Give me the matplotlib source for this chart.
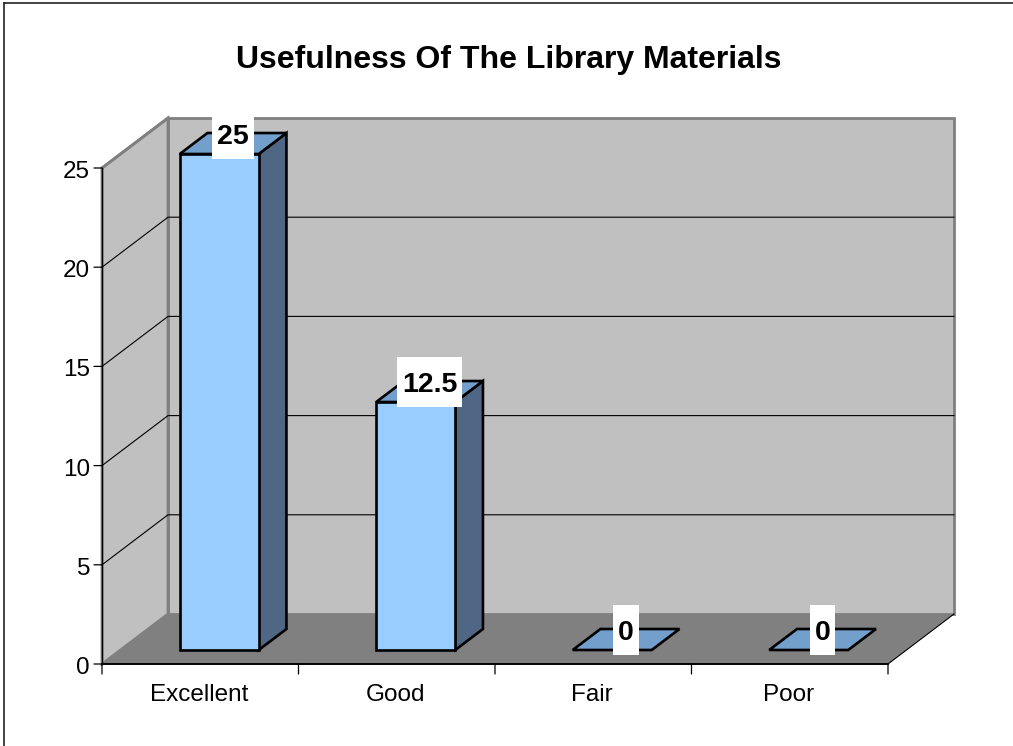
import matplotlib
matplotlib.use('Agg')
import matplotlib.pyplot as plt
from matplotlib.transforms import Affine2D

categories = ['Excellent', 'Good', 'Fair', 'Poor']
values = [25, 12.5, 0, 0]
value_labels = ['25', '12.5', '0', '0']
y_ticks = [0, 5, 10, 15, 20, 25]

plt.rcParams['font.family'] = ['Liberation Sans', 'DejaVu Sans']

W, H = 1013, 746
fig = plt.figure(figsize=(W / 100, H / 100), dpi=100)
# the front plane of the 3d box is the axes
ax = fig.add_axes([102 / W, 1 - 664 / H, 786 / W, 496 / H])
ax.set_xlim(0, len(categories))
ax.set_ylim(0, 25)
ax.axis('off')

# how far the back wall is pushed from the front plane, in data units
DX = 66 / 786 * 4
DY = 50 / 496 * 25


def proj(x, y, d):
    return (x + DX * d, y + DY * d)


def face(pts, fc, ec, lw, z):
    ax.fill([p[0] for p in pts], [p[1] for p in pts], facecolor=fc, edgecolor=ec,
            linewidth=lw, zorder=z, clip_on=False, joinstyle='miter')


n = len(categories)
grey = '#c0c0c0'
edge = '#808080'

# back wall, side wall, floor
face([proj(0, 0, 1), proj(n, 0, 1), proj(n, 25, 1), proj(0, 25, 1)], grey, edge, 2.0, 1)
face([proj(0, 0, 0), proj(0, 0, 1), proj(0, 25, 1), proj(0, 25, 0)], grey, edge, 2.0, 1)
face([proj(0, 0, 0), proj(n, 0, 0), proj(n, 0, 1), proj(0, 0, 1)], '#808080', 'none', 0, 2)

# gridlines on walls
for t in y_ticks[1:-1]:
    a, b = proj(0, t, 0), proj(0, t, 1)
    c = proj(n, t, 1)
    ax.plot([a[0], b[0], c[0]], [a[1], b[1], c[1]], color='black', lw=0.8, zorder=2,
            clip_on=False)

# axis lines
a, b = proj(n, 0, 0), proj(n, 0, 1)
ax.plot([a[0], b[0]], [a[1], b[1]], color='black', lw=0.8, zorder=3, clip_on=False)
a, b = proj(0, 25, 0), proj(0, 25, 1)
ax.plot([a[0], b[0]], [a[1], b[1]], color=edge, lw=2.0, zorder=3, clip_on=False)
ax.plot([0, 0], [0, 25], color='black', lw=1.0, zorder=3, clip_on=False)
ax.plot([0, n], [0, 0], color='black', lw=1.4, zorder=3, clip_on=False)

# ticks, in pixels off the axes
for t in y_ticks:
    ax.annotate('', xy=(0, t), xytext=(-8, 0), textcoords='offset pixels',
                arrowprops=dict(arrowstyle='-', color='black', lw=0.9, shrinkA=0, shrinkB=0),
                annotation_clip=False)
    ax.annotate(str(t), xy=(0, t), xytext=(-12, -4), textcoords='offset pixels',
                ha='right', va='center', fontsize=17.5, color='black', annotation_clip=False)
for i in range(n + 1):
    ax.annotate('', xy=(i, 0), xytext=(0, -10), textcoords='offset pixels',
                arrowprops=dict(arrowstyle='-', color='black', lw=0.9, shrinkA=0, shrinkB=0),
                annotation_clip=False)
for i, c in enumerate(categories):
    ax.annotate(c, xy=(i + 0.5, 0), xytext=(-1, -31), textcoords='offset pixels',
                ha='center', va='center', fontsize=17.5, color='black', annotation_clip=False)

# bars
bar_w = 79 / 786 * 4
shift = 0.5 / 786 * 4
d0, d1 = 0.28, 0.70
renderer = fig.canvas.get_renderer()
for i, v in enumerate(values):
    x0 = i + 0.5 + shift - bar_w / 2
    x1 = x0 + bar_w
    if v > 0:
        face([proj(x1, 0, d0), proj(x1, 0, d1), proj(x1, v, d1), proj(x1, v, d0)], '#4f6785', 'black', 1.9, 5)
    face([proj(x0, v, d0), proj(x1, v, d0), proj(x1, v, d1), proj(x0, v, d1)], '#729fcb', 'black', 1.9, 5)
    if v > 0:
        face([proj(x0, 0, d0), proj(x1, 0, d0), proj(x1, v, d0), proj(x0, v, d0)], '#99ccff', 'black', 1.9, 6)
    cx, cy = proj(i + 0.5 + shift, v, (d0 + d1) / 2)
    txt = ax.annotate(value_labels[i], xy=(cx, cy), xytext=(0, 7), textcoords='offset pixels',
                      ha='center', va='center', fontsize=20.5, fontweight='bold', color='black',
                      zorder=8, annotation_clip=False)
    # white box behind the label, fixed height, a little wider than the text
    tw = txt.get_window_extent(renderer).width + 10
    px, py = ax.transData.transform((cx, cy))
    box = plt.Rectangle((-tw / 2, -25), tw, 50, facecolor='white', edgecolor='none', zorder=7,
                        clip_on=False, transform=Affine2D().translate(px, py + 10))
    ax.add_patch(box)

fig.text(509 / W, 1 - 60 / H, 'Usefulness Of The Library Materials', ha='center', va='center',
         fontsize=23, fontweight='bold', color='black')

# chart border, only left and top show in the picture
fig.add_artist(plt.Line2D([4 / W, 4 / W], [0, 1 - 3 / H], color='#222222', lw=1.2))
fig.add_artist(plt.Line2D([4 / W, 1], [1 - 3 / H, 1 - 3 / H], color='#222222', lw=1.2))

fig.savefig('out.png', dpi=100)
